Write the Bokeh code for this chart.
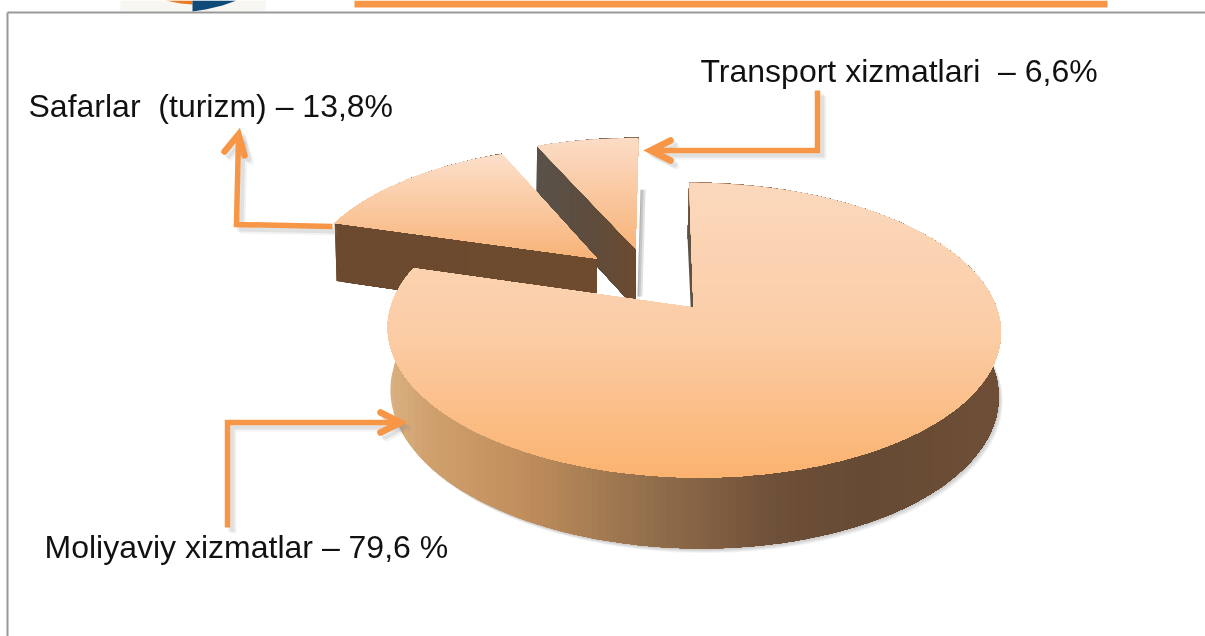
import math
from bokeh.plotting import figure
from bokeh.core.properties import value
from bokeh.embed import file_html
from bokeh.resources import INLINE

# ---- data ----
categories = ["Moliyaviy xizmatlar", "Safarlar  (turizm)", "Transport xizmatlari"]
shares = [79.6, 13.8, 6.6]
labels = ["Moliyaviy xizmatlar – 79,6 %", "Safarlar \u00a0(turizm) – 13,8%", "Transport xizmatlari \u00a0– 6,6%"]

# ---- style / layout ----
W, H = 1205, 636
ORANGE = "#f79646"
FONT = "Liberation Sans"
FONT_PX = 32
AX, AY, A, B, K = 693.0, 307.0, 303.0, 144.0, 0.1525
B_LOW, A_LOW, DROP = 151.4, 300.5, 62.3
explode = [(0.0, 0.0), (-0.331, -0.359), (-0.197, -0.437)]
label_pos = [(44, 546), (28, 105), (700, 70)]

TOP_STOPS = [[(182, "#fbd8bd"), (330, "#fbcda6"), (477, "#fbb26f")],
             [(154, "#fcdfca"), (258, "#f8b377")],
             [(137, "#fbdcc6"), (248, "#f8b47a")]]
SIDE_STOPS = [[(387, "#d9b081"), (430, "#cf9f6c"), (520, "#c08e5c"), (640, "#94704c"),
               (770, "#6f5039"), (860, "#664a33"), (1001, "#6f4f37")],
              [(335, "#6b4a2f"), (600, "#6e4b2e")],
              [(537, "#5a5249"), (590, "#5e4c3e"), (640, "#6e4b2d")]]

ARROWS = [([817, 817, 652], [90, 150, 150], [(670, 140), (650, 150), (670, 160)]),
          ([332, 236, 238], [226, 224, 136], [(224, 151), (238, 134), (244, 155)]),
          ([227, 227, 398], [527, 422, 422], [(380, 412), (400, 422), (380, 432)])]


def hex2(c):
    return [int(c[i:i + 2], 16) for i in (1, 3, 5)]


def ramp(stops, t):
    if t <= stops[0][0]:
        return stops[0][1]
    for (a, ca), (b, cb) in zip(stops, stops[1:]):
        if t <= b:
            f = (t - a) / (b - a)
            r = [round(u + (v - u) * f) for u, v in zip(hex2(ca), hex2(cb))]
            return "#%02x%02x%02x" % tuple(r)
    return stops[-1][1]


def top_pt(X, Y):
    d = 1 - K * Y
    y = AY + B * Y / d
    return AX + A * X / d + 0.035 * (y - AY), y


def low_pt(X, Y):
    d = 1 - K * Y
    y = AY + DROP + B_LOW * Y / d
    return AX + A_LOW * X / d + 0.045 * (y - AY - DROP), y


def arc(th0, th1, off, fn):
    n = max(8, int(abs(th1 - th0) * 1.2))
    out = []
    for i in range(n + 1):
        t = math.radians(th0 + (th1 - th0) * i / n)
        out.append(fn(off[0] + math.sin(t), off[1] - math.cos(t)))
    return out


def clip(poly, axis, limit):
    """keep the part of poly with coordinate >= limit"""
    res = []
    for i, p in enumerate(poly):
        q = poly[(i + 1) % len(poly)]
        pin, qin = p[axis] >= limit, q[axis] >= limit
        if pin:
            res.append(p)
        if pin != qin:
            f = (limit - p[axis]) / (q[axis] - p[axis])
            res.append((p[0] + (q[0] - p[0]) * f, p[1] + (q[1] - p[1]) * f))
    return res


p = figure(width=W, height=H, x_range=(0, W), y_range=(H, 0), toolbar_location=None,
           output_backend="svg", min_border=0, outline_line_color=None,
           background_fill_color="white", border_fill_color="white")
p.axis.visible = False
p.grid.visible = False
p.styles = {"position": "fixed", "left": "0px", "top": "0px"}


def fill(poly, color, alpha=1.0):
    p.patch([q[0] for q in poly], [q[1] for q in poly], fill_color=color,
            fill_alpha=alpha, line_color=None)


def banded(poly, axis, stops, n=90):
    vals = [q[axis] for q in poly]
    lo, hi = min(vals), max(vals)
    fill(poly, ramp(stops, lo))
    for i in range(1, n):
        lim = lo + (hi - lo) * i / n
        part = clip(poly, axis, lim)
        if len(part) >= 3:
            fill(part, ramp(stops, lim))


# header fragments above the frame
p.quad(left=[354], right=[1107], top=[0], bottom=[7], fill_color=ORANGE, line_color=None)
p.quad(left=[120], right=[265], top=[0], bottom=[11], fill_color="#f8f6f3", line_color=None)
p.patch([165, 192, 192, 180], [0, 0, 4, 3], fill_color="#ee7b1e", line_color=None)
p.patch([192, 236, 222, 205, 192], [0, 0, 5, 9, 11], fill_color="#0f4a78", line_color=None)

# frame
p.line([7, 7], [12, H], line_color="#999999", line_width=2)
p.line([7, W], [12, 12], line_color="#999999", line_width=2)

# angles from the shares
edges = [0.0]
for s in shares:
    edges.append(edges[-1] + s / sum(shares) * 360.0)

# soft shadows
sh_main = arc(70, 270, explode[0], low_pt)
for dx in range(1, 6):
    fill([(x + dx * 0.8, y + dx * 0.9) for x, y in sh_main], "#555555", 0.07)
ax0, ay0 = top_pt(*explode[2])
tx0, ty0 = arc(edges[2], edges[3], explode[2], top_pt)[-1]
for dx in (3, 5, 7):
    fill([(tx0 + 2, ty0 + 52), (tx0 + dx, ty0 + 52), (ax0 + dx, ay0 + 48), (ax0 + 2, ay0 + 48)], "#555555", 0.18)

# slices, back to front
for i in (2, 1, 0):
    th0, th1 = edges[i], edges[i + 1]
    off = explode[i]
    top_arc = arc(th0, th1, off, top_pt)
    low_arc = arc(th0, th1, off, low_pt)
    apex_t, apex_l = top_pt(*off), low_pt(*off)
    # outer wall
    banded(top_arc + low_arc[::-1], 0, SIDE_STOPS[i])
    # cut wall running from the apex to the start of the arc
    wall = [apex_t, top_arc[0], low_arc[0], apex_l]
    if i == 0:
        fill(wall, "#5f5245")
    else:
        banded(wall, 0, SIDE_STOPS[i])
    banded([apex_t] + top_arc, 1, TOP_STOPS[i])

# leader arrows
for xs, ys, head in ARROWS:
    hx, hy = [q[0] for q in head], [q[1] for q in head]
    for sx, sa in ((6, 0.10), (4, 0.18)):
        p.line([x + sx for x in xs], [y + sx for y in ys], line_color="#888888", line_alpha=sa,
               line_width=6, line_join="miter")
        p.line([x + sx for x in hx], [y + sx for y in hy], line_color="#888888", line_alpha=sa,
               line_width=6, line_cap="round", line_join="miter")
    p.line(xs, ys, line_color=ORANGE, line_width=5.5, line_join="miter")
    p.line(hx, hy, line_color=ORANGE, line_width=6.5, line_cap="round", line_join="miter")

# labels
p.text(x=[q[0] for q in label_pos], y=[q[1] for q in label_pos], text=labels,
       text_font=value(FONT), text_font_size=value(f"{FONT_PX}px"), text_color="#111111",
       text_baseline="alphabetic", text_align="left")

open("out.html", "w").write(file_html(p, INLINE))
